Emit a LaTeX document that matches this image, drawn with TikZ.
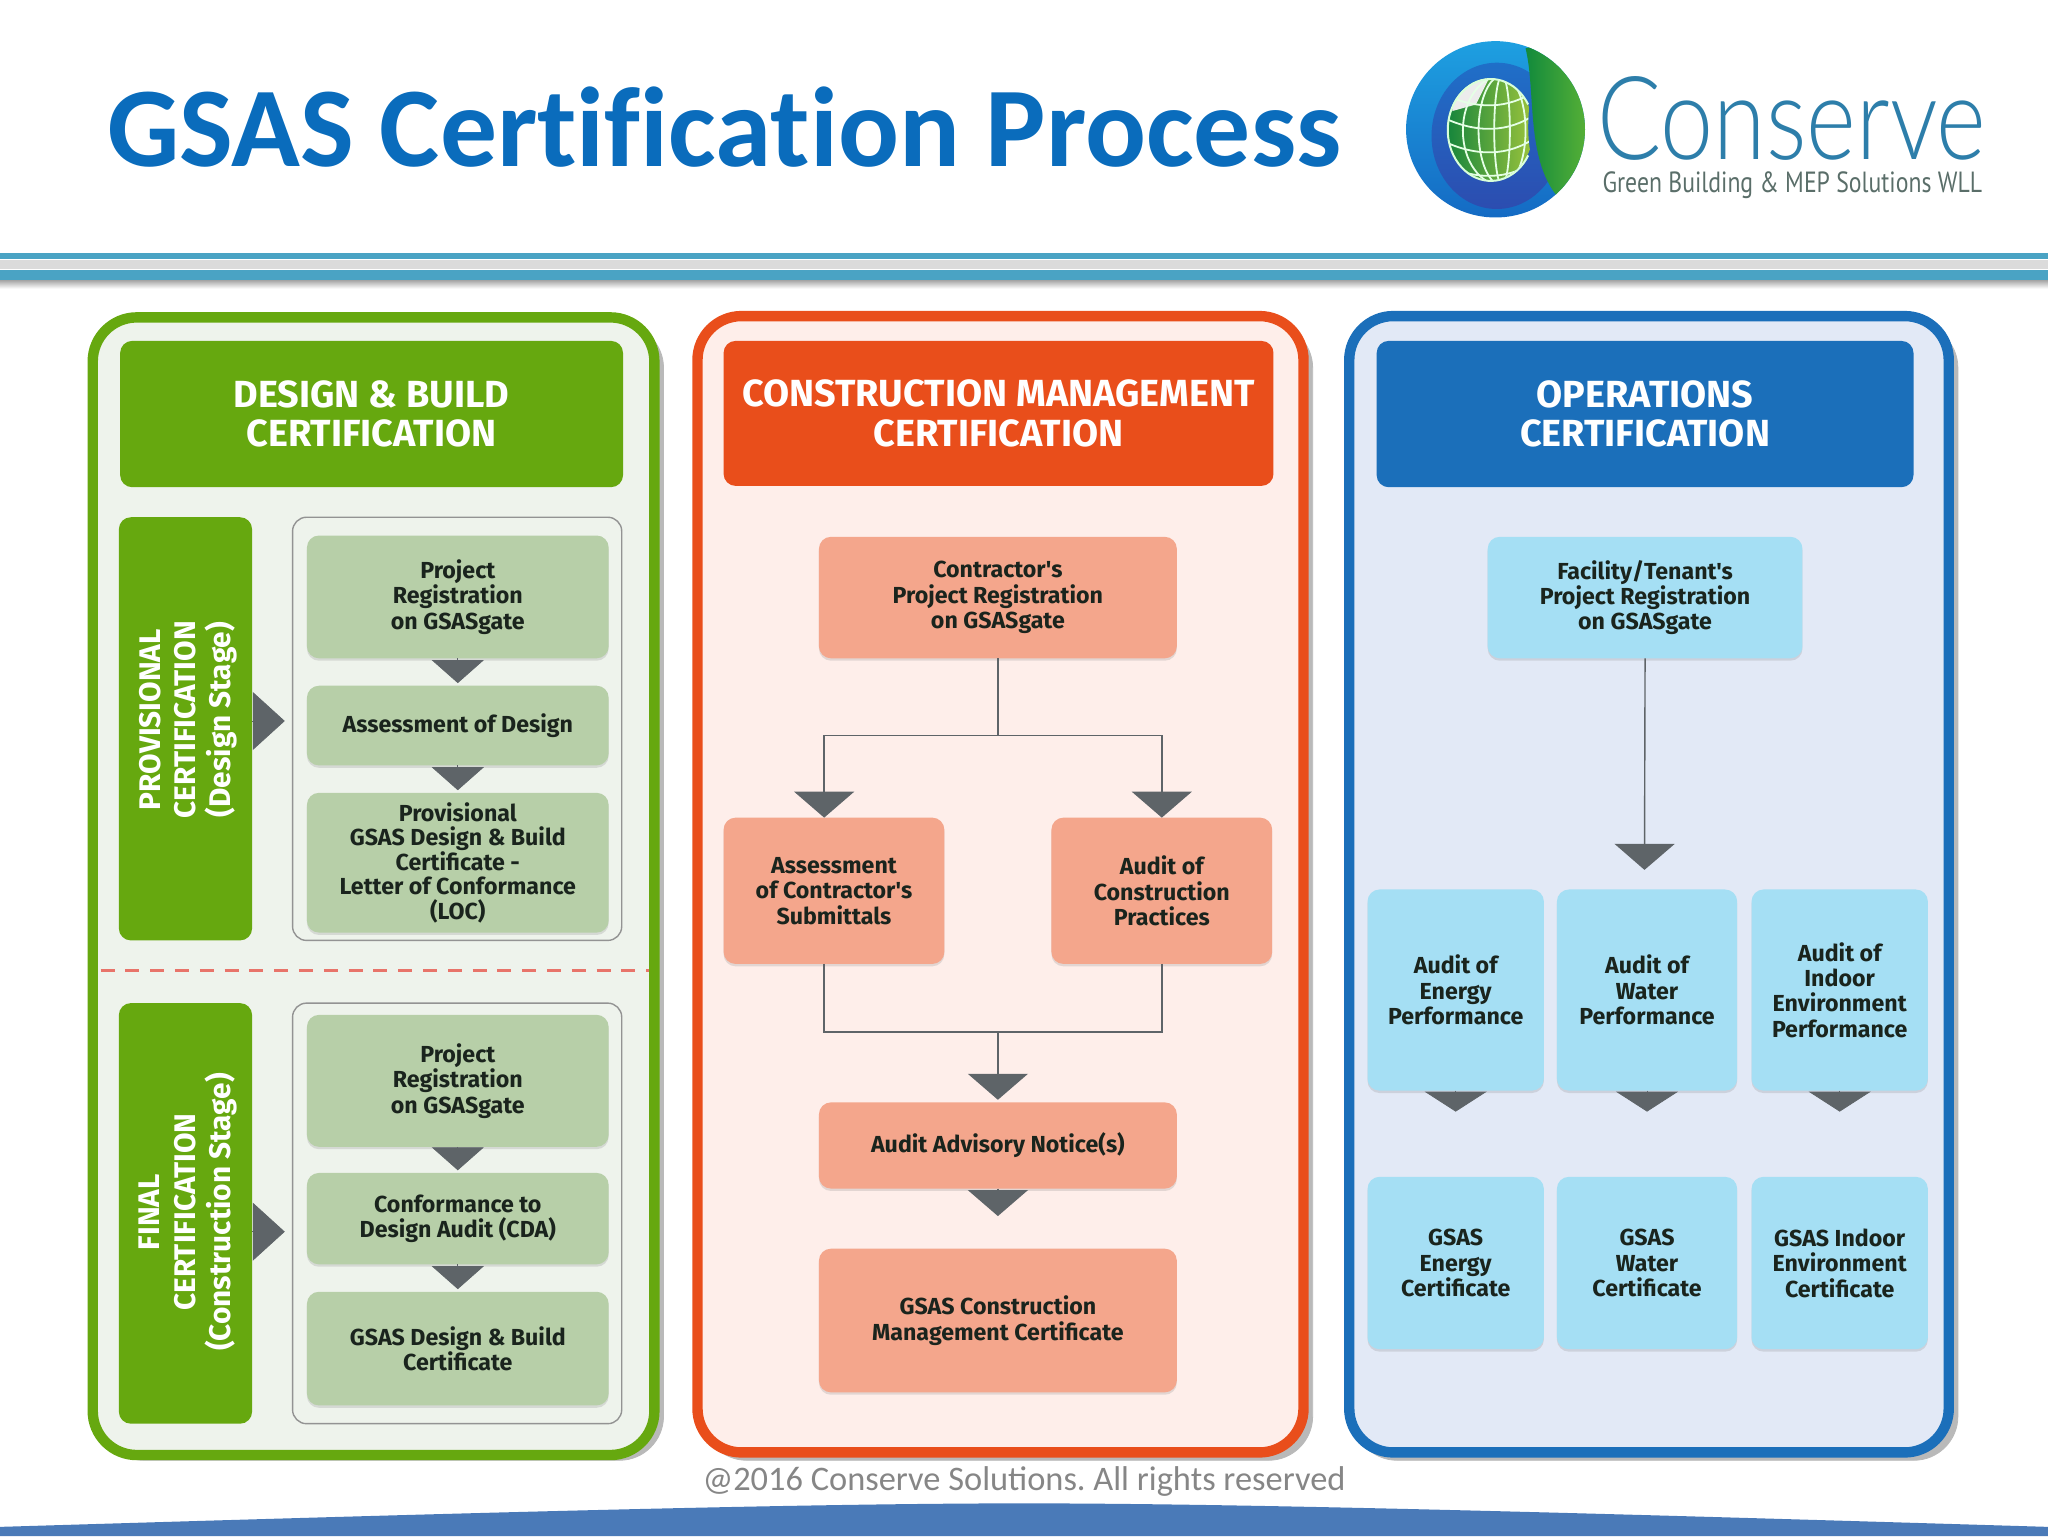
\documentclass[tikz,border=0pt]{standalone}
\usepackage{fontspec}
\setmainfont{Carlito}
\newfontfamily\din{Fira Sans}
\newfontfamily\ptn{PT Sans}
\newfontfamily\lato{Lato}[UprightFont=* Light]
\usetikzlibrary{arrows.meta,calc,shadows}
\definecolor{grn}{HTML}{66A80F}
\definecolor{grnbg}{HTML}{EEF3EC}
\definecolor{grnbox}{HTML}{B7CFA8}
\definecolor{org}{HTML}{E94E1B}
\definecolor{orgbg}{HTML}{FEEEEA}
\definecolor{orgbox}{HTML}{F4A68C}
\definecolor{blu}{HTML}{1B6FBA}
\definecolor{blubg}{HTML}{E2E9F6}
\definecolor{blubox}{HTML}{A5DFF4}
\definecolor{arr}{HTML}{5E6468}
\definecolor{ink}{HTML}{1A241D}
\definecolor{ttl}{HTML}{0A6CBC}
\definecolor{stripe}{HTML}{4AA3C4}
\definecolor{arch}{HTML}{4A7AB8}
\definecolor{lgA}{HTML}{1EA0E1}
\definecolor{lgB}{HTML}{1469C3}
\definecolor{lgC}{HTML}{1F6FC8}
\definecolor{lgD}{HTML}{2C4DB0}
\definecolor{lgE}{HTML}{128A3C}
\definecolor{lgF}{HTML}{6CBC34}
\definecolor{lgG}{HTML}{0F823C}
\definecolor{lgH}{HTML}{A5C83C}
\definecolor{brandc}{HTML}{2D7EAA}
\definecolor{tagc}{HTML}{5A6E69}
\definecolor{dashc}{HTML}{E8746A}
\newcommand{\bx}[7]{\node[#6,minimum width={(#4-#2)*0.653061},minimum height={(#5-#3)*0.653061}] (#1) at ({(#2+#4)/2},{(#3+#5)/2}) {#7};}
\tikzset{
 base/.style={rectangle,inner sep=0pt,outer sep=0pt,align=center},
 panel/.style={base,rounded corners=22pt,line width=5.2pt},
 softsh/.style={drop shadow={opacity=0.22,shadow xshift=0pt,shadow yshift=-1.2pt}},
 head/.style={base,rounded corners=6pt,text=white,font=\din\bfseries\fontsize{18.9}{19.6}\selectfont},
 gbox/.style={base,rounded corners=6pt,softsh,fill=grnbox,text=ink,font=\din\bfseries\fontsize{11.6}{12.7}\selectfont},
 obox/.style={gbox,fill=orgbox},
 bbox/.style={gbox,fill=blubox},
 frm/.style={base,draw=gray!85,line width=0.7pt,rounded corners=7pt,fill=grnbg},
 side/.style={base,rounded corners=6pt,fill=grn},
 sidetxt/.style={base,rotate=90,text=white,font=\din\bfseries\fontsize{14.9}{17.6}\selectfont},
 arS/.style={draw=arr,line width=0.4pt,-{Triangle[width=26pt,length=11.5pt,fill=arr]},shorten >=1.3pt},
 arM/.style={draw=arr,line width=0.7pt,-{Triangle[width=30pt,length=13pt,fill=arr]}},
 arB/.style={draw=arr,line width=0.4pt,-{Triangle[width=31pt,length=10pt,fill=arr]}},
 arSide/.style={draw=arr,line width=0.4pt,-{Triangle[width=29pt,length=16pt,fill=arr]},shorten >=3.9pt},
 wire/.style={draw=arr,line width=0.7pt},
}
\begin{document}
\begin{tikzpicture}[x=0.653061pt,y=-0.653061pt]
\useasboundingbox (0,0) rectangle (1568,1176);
% bottom arch
\fill[arch] (0,1176) -- (0,1169) .. controls (300,1160) and (600,1151) .. (784,1151) .. controls (968,1151) and (1268,1160) .. (1568,1169) -- (1568,1176) -- cycle;
% title
\node[base,anchor=base west,text=ttl,font=\addfontfeature{Ligatures=NoCommon}\bfseries\fontsize{56.8}{60}\selectfont] (title) at (82,127.5) {GSAS Certification Process};
% stripes
\fill[stripe] (0,194) rectangle (1568,198.5);
\fill[gray!28] (0,199) rectangle (1568,206);
\fill[stripe] (0,207) rectangle (1568,214.5);
\shade[top color=gray!70,bottom color=white] (0,214.5) rectangle (1568,221);
% logo
\begin{scope}
\clip (1145,99) ellipse [x radius=68.5,y radius=67.5];
\shade[top color=lgA,bottom color=lgB] (1070,30) rectangle (1220,170);
\shade[top color=lgC,bottom color=lgD] (1146,104) ellipse [x radius=50,y radius=56];
\shade[left color=lgE,right color=lgF] (1168,37) .. controls (1176,70) and (1168,120) .. (1192,150) -- (1230,150) -- (1230,20) -- cycle;
\end{scope}
\begin{scope}
\clip (1170.5,30) -- (1170.5,85) .. controls (1169,105) and (1171,120) .. (1177,136) -- (1100,145) -- (1100,30) -- cycle;
\clip (1141,99) ellipse [x radius=33,y radius=39];
\shade[left color=lgG,right color=lgH] (1105,58) rectangle (1178,140);
\fill[white!85!gray] (1112,60) -- (1140,60) -- (1130,80) -- (1112,85) -- cycle;
\foreach \r in {6,18,30}{\draw[white!90!green,line width=0.9pt] (1150,100) ellipse [x radius=\r,y radius=42];}
\foreach \yy in {72,90,108,126}{\draw[white!90!green,line width=0.9pt] (1105,\yy) .. controls (1130,\yy+12) and (1155,\yy+12) .. (1176,\yy-3);}
\end{scope}
\draw[white!85!green,line width=1pt] (1170,80) arc[start angle=-30,end angle=-330,x radius=33,y radius=39];
\node[base,anchor=base west,text=brandc,font=\lato\fontsize{58}{60}\selectfont] (brand) at (1223,122) {\scalebox{0.82}[1]{Conserve}};
\node[base,anchor=base west,text=tagc,font=\ptn\fontsize{14.6}{15}\selectfont] (tag) at (1227,147.5) {\scalebox{0.813}[1]{Green Building \& MEP Solutions WLL}};
% panel shadows
\draw[gray!55,fill=gray!55,rounded corners=22pt] (76,248) rectangle (508,1118);
\draw[gray!55,fill=gray!55,rounded corners=22pt] (538,248) rectangle (1005,1118);
\draw[gray!55,fill=gray!55,rounded corners=22pt] (1036,248) rectangle (1499,1118);
% panels
\bx{pg}{71}{243}{501}{1114}{panel,draw=grn,fill=grnbg}{}
\bx{po}{534}{242}{998}{1112}{panel,draw=org,fill=orgbg}{}
\bx{pb}{1033}{242}{1492}{1112}{panel,draw=blu,fill=blubg}{}
% headers
\bx{hg}{92}{261}{477}{373}{head,fill=grn}{DESIGN \& BUILD\\CERTIFICATION}
\bx{ho}{554}{261}{975}{372}{head,fill=org}{CONSTRUCTION MANAGEMENT\\CERTIFICATION}
\bx{hb}{1054}{261}{1465}{373}{head,fill=blu}{OPERATIONS\\CERTIFICATION}
% green column
\bx{prov}{91}{396}{193}{720}{side}{}
\node[sidetxt] (provt) at (144,551) {PROVISIONAL\\CERTIFICATION\\(Design Stage)};
\bx{fp}{224}{396}{476}{720}{frm}{}
\bx{g1}{235}{410}{466}{504}{gbox}{Project\\Registration\\on GSASgate}
\bx{g2}{235}{525}{466}{586}{gbox}{Assessment of Design}
\bx{g3}{235}{607}{466}{714}{gbox,font=\din\bfseries\fontsize{11.6}{12.2}\selectfont}{Provisional\\GSAS Design \& Build\\Certificate -\\Letter of Conformance\\(LOC)}
\draw[arS] (g1) -- (g2);
\draw[arS] (g2) -- (g3);
\draw[arSide] ($(prov.east)+(0,-6)$) -- ($(fp.west)+(0,-6)$);
\coordinate (dl) at (77,743);
\coordinate (dr) at (497,743);
\draw[dashc,line width=1.6pt,dash pattern=on 7pt off 5.4pt] (dl) -- (dr);
\bx{fin}{91}{768}{193}{1090}{side}{}
\node[sidetxt] (fint) at (144,928) {FINAL\\CERTIFICATION\\(Construction Stage)};
\bx{ff}{224}{768}{476}{1090}{frm}{}
\bx{g4}{235}{777}{466}{878}{gbox}{Project\\Registration\\on GSASgate}
\bx{g5}{235}{898}{466}{968}{gbox}{Conformance to\\Design Audit (CDA)}
\bx{g6}{235}{989}{466}{1076}{gbox}{GSAS Design \& Build\\Certificate}
\draw[arS] (g4) -- (g5);
\draw[arS] (g5) -- (g6);
\draw[arSide] ($(fin.east)+(0,14)$) -- ($(ff.west)+(0,14)$);
% orange column
\bx{o1}{627}{411}{901}{504}{obox}{Contractor's\\Project Registration\\on GSASgate}
\bx{o2}{554}{626}{723}{738}{obox}{Assessment\\of Contractor's\\Submittals}
\bx{o3}{805}{626}{974}{738}{obox}{Audit of\\Construction\\Practices}
\bx{o4}{627}{844}{901}{910}{obox}{Audit Advisory Notice(s)}
\bx{o5}{627}{956}{901}{1066}{obox}{GSAS Construction\\Management Certificate}
\coordinate (jt) at ($(o1.south)+(0,59)$);
\coordinate (jb) at ($(o4.north)+(0,-54)$);
\coordinate (o2n) at ($(o2.north)+(-7.5,0)$);
\coordinate (o2s) at ($(o2.south)+(-7.5,0)$);
\draw[wire] (o1.south) -- (jt);
\draw[arM] (jt) -| (o2n);
\draw[arM] (jt) -| (o3.north);
\draw[wire] (o2s) |- (jb);
\draw[wire] (o3.south) |- (jb);
\draw[arM,shorten >=1.3pt] (jb) -- (o4.north);
\draw[arM,shorten >=16.3pt] (o4) -- (o5);
% blue column
\bx{b1}{1139}{411}{1380}{504}{bbox}{Facility/Tenant's\\Project Registration\\on GSASgate}
\bx{b2}{1047}{681}{1182}{835}{bbox}{Audit of\\Energy\\Performance}
\bx{b3}{1192}{681}{1330}{835}{bbox}{Audit of\\Water\\Performance}
\bx{b4}{1341}{681}{1476}{835}{bbox}{Audit of\\Indoor\\Environment\\Performance}
\bx{b5}{1047}{901}{1182}{1033}{bbox}{GSAS\\Energy\\Certificate}
\bx{b6}{1192}{901}{1330}{1033}{bbox}{GSAS\\Water\\Certificate}
\bx{b7}{1341}{901}{1476}{1033}{bbox}{GSAS Indoor\\Environment\\Certificate}
\draw[arM,shorten >=9.8pt] (b1.south) -- ($(b3.north)+(-2,0)$);
\draw[arB,shorten >=32.6pt] (b2) -- (b5);
\draw[arB,shorten >=32.6pt] (b3) -- (b6);
\draw[arB,shorten >=32.6pt] (b4) -- (b7);
% footer
\node[base,text=gray!95,font=\frenchspacing\fontsize{17.2}{18}\selectfont] (foot) at (784,1134) {@2016 Conserve Solutions. All rights reserved};
\end{tikzpicture}
\end{document}
